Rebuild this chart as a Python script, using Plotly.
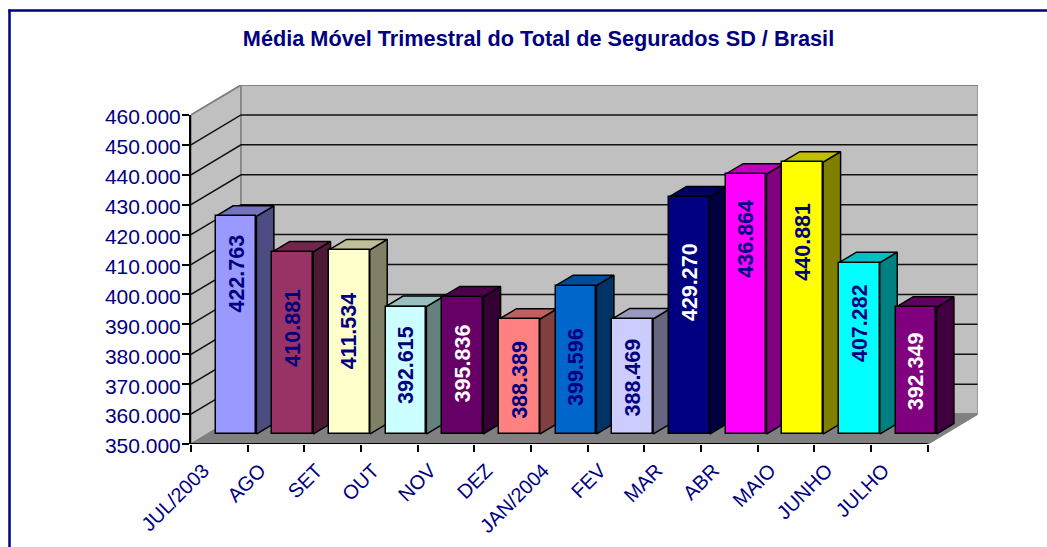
import plotly.graph_objects as go

TITLE = "Média Móvel Trimestral do Total de Segurados SD / Brasil"
categories = ["JUL/2003", "AGO", "SET", "OUT", "NOV", "DEZ", "JAN/2004", "FEV", "MAR", "ABR", "MAIO", "JUNHO", "JULHO"]
values = [422763, 410881, 411534, 392615, 395836, 388389, 399596, 388469, 429270, 436864, 440881, 407282, 392349]
bar_colors = ["#9999FF", "#993366", "#FFFFCC", "#CCFFFF", "#660066", "#FF8080", "#0066CC",
              "#CCCCFF", "#000080", "#FF00FF", "#FFFF00", "#00FFFF", "#800080"]
label_colors = ["#000080", "#000080", "#000080", "#000080", "#FFFFFF", "#000080", "#000080",
                "#000080", "#FFFFFF", "#000080", "#000080", "#000080", "#FFFFFF"]
label_centres = [407006, 388785, 387781, 376414, 376848, 371566, 375745, 372134, 404265, 418642, 417539, 390557, 374307]
y_ticks = list(range(350000, 470000, 10000))

W, H = 1047, 547
X0, X1, Y0, Y1 = 191.0, 927.7, 444.0, 115.0      # front plane of the axes, pixels
DEPTH_X = 50.0 / ((X1 - X0) / 13)                # wall depth in category units
DEPTH_Y = 10000                                  # wall depth in value units
BAR_FRONT, BAR_BACK = 1 / 3, 1 / 3 + 0.35        # bar placement in the depth
BAR_W = 0.72
NAVY = "#000080"
FONT = "Liberation Sans"


def shade(col, k):
    r, g, b = int(col[1:3], 16), int(col[3:5], 16), int(col[5:7], 16)
    return f"rgb({round(r * k)},{round(g * k)},{round(b * k)})"


def fmt(v):
    return f"{v:,}".replace(",", ".")


def poly(pts, fill, line="black", width=1.5):
    return go.Scatter(x=[p[0] for p in pts] + [pts[0][0]], y=[p[1] for p in pts] + [pts[0][1]],
                      mode="lines", fill="toself", fillcolor=fill, line=dict(color=line, width=width),
                      hoverinfo="skip", showlegend=False, xaxis="x", yaxis="y")


def pr(x, v, f):
    return (x + DEPTH_X * f, v + DEPTH_Y * f)


fig = go.Figure()
lo, hi, n = y_ticks[0], y_ticks[-1], len(categories)

# floor and walls
fig.add_trace(poly([pr(0, lo, 0), pr(0, hi, 0), pr(0, hi, 1), pr(0, lo, 1)], "#C0C0C0", "#808080"))
fig.add_trace(poly([pr(0, lo, 1), pr(n, lo, 1), pr(n, hi, 1), pr(0, hi, 1)], "#C0C0C0", "#808080"))
fig.add_trace(poly([pr(0, lo, 0), pr(n, lo, 0), pr(n, lo, 1), pr(0, lo, 1)], "#808080", "#808080"))

# gridlines on the left and back walls
for t in y_ticks[1:]:
    a, b, c = pr(0, t, 0), pr(0, t, 1), pr(n, t, 1)
    fig.add_trace(go.Scatter(x=[a[0], b[0], c[0]], y=[a[1], b[1], c[1]], mode="lines",
                             line=dict(color="#111111" if t < hi else "#808080", width=1.5),
                             hoverinfo="skip", showlegend=False, xaxis="x", yaxis="y"))

# bar sides and tops
for i, (v, col) in enumerate(zip(values, bar_colors)):
    l, r = i + 0.5 - BAR_W / 2, i + 0.5 + BAR_W / 2
    fig.add_trace(poly([pr(r, lo, BAR_FRONT), pr(r, lo, BAR_BACK), pr(r, v, BAR_BACK), pr(r, v, BAR_FRONT)], shade(col, 0.5)))
    fig.add_trace(poly([pr(l, v, BAR_FRONT), pr(r, v, BAR_FRONT), pr(r, v, BAR_BACK), pr(l, v, BAR_BACK)], shade(col, 0.75)))

# bar fronts, in the subplot that carries the real axes
fig.add_trace(go.Bar(
    x=[i + 0.5 + DEPTH_X * BAR_FRONT for i in range(n)],
    y=[v - lo for v in values],
    base=lo + DEPTH_Y * BAR_FRONT,
    width=BAR_W,
    marker=dict(color=bar_colors, line=dict(color="black", width=1.5)),
    cliponaxis=False, showlegend=False, hoverinfo="skip", xaxis="x2", yaxis="y2",
))
# category axis line, front edge of the floor
fig.add_trace(go.Scatter(x=[0, n], y=[lo, lo], mode="lines", line=dict(color="black", width=2),
                         cliponaxis=False, hoverinfo="skip", showlegend=False, xaxis="x2", yaxis="y2"))

annotations = [
    dict(x=i + 0.5 + DEPTH_X * BAR_FRONT, y=yc, xref="x2", yref="y2", text=fmt(v), textangle=-90,
         showarrow=False, font=dict(family=FONT, size=21.5, color=c, weight="bold"))
    for i, (v, yc, c) in enumerate(zip(values, label_centres, label_colors))
]

dom_x = [X0 / W, (X1 + 50) / W]
fig.update_layout(
    template="none",
    width=W, height=H, autosize=False,
    margin=dict(l=0, r=0, t=0, b=0, pad=0, autoexpand=False),
    paper_bgcolor="white", plot_bgcolor="rgba(0,0,0,0)",
    title=dict(text=f"<b>{TITLE}</b>", x=538.5 / W, y=1 - 38 / H, xanchor="center", yanchor="middle",
               font=dict(family=FONT, size=21.7, color=NAVY)),
    xaxis=dict(visible=False, domain=dom_x, range=[0, n + DEPTH_X], anchor="y", automargin=False),
    yaxis=dict(visible=False, domain=[1 - Y0 / H, 1 - (Y1 - 30) / H], range=[lo, hi + DEPTH_Y], anchor="x", automargin=False),
    xaxis2=dict(domain=dom_x, range=[0, n + DEPTH_X], anchor="y2", showgrid=False, zeroline=False,
                showline=False, automargin=False,
                tickmode="array", tickvals=[i + 0.5 for i in range(n)], ticktext=categories,
                ticks="", tickangle=-45, ticklabelstandoff=10, ticklabelshift=-16,
                tickfont=dict(family=FONT, size=20, color=NAVY),
                minor=dict(tickmode="array", tickvals=list(range(n + 1)), ticks="outside", ticklen=7,
                           tickcolor="black", tickwidth=1.5, showgrid=False)),
    yaxis2=dict(domain=[1 - Y0 / H, 1 - Y1 / H], range=[lo, hi], anchor="x2", showgrid=False, zeroline=False,
                showline=True, linecolor="black", linewidth=2, automargin=False,
                tickmode="array", tickvals=y_ticks, ticktext=[fmt(t) for t in y_ticks],
                ticks="outside", ticklen=7, tickcolor="black", tickwidth=1.5,
                ticklabelstandoff=-3, ticklabelshift=2,
                tickfont=dict(family=FONT, size=21, color=NAVY)),
    bargap=0,
    annotations=annotations,
    shapes=[
        dict(type="line", xref="paper", yref="paper", x0=9.5 / W, x1=9.5 / W, y0=0, y1=1 - 9.5 / H,
             line=dict(color=NAVY, width=2.5)),
        dict(type="line", xref="paper", yref="paper", x0=8.3 / W, x1=1, y0=1 - 10.5 / H, y1=1 - 10.5 / H,
             line=dict(color=NAVY, width=2.5)),
    ],
)

fig.write_html("out.html", config=dict(displayModeBar=False),
               post_script="document.body.style.margin='0';document.body.style.overflow='hidden';")
